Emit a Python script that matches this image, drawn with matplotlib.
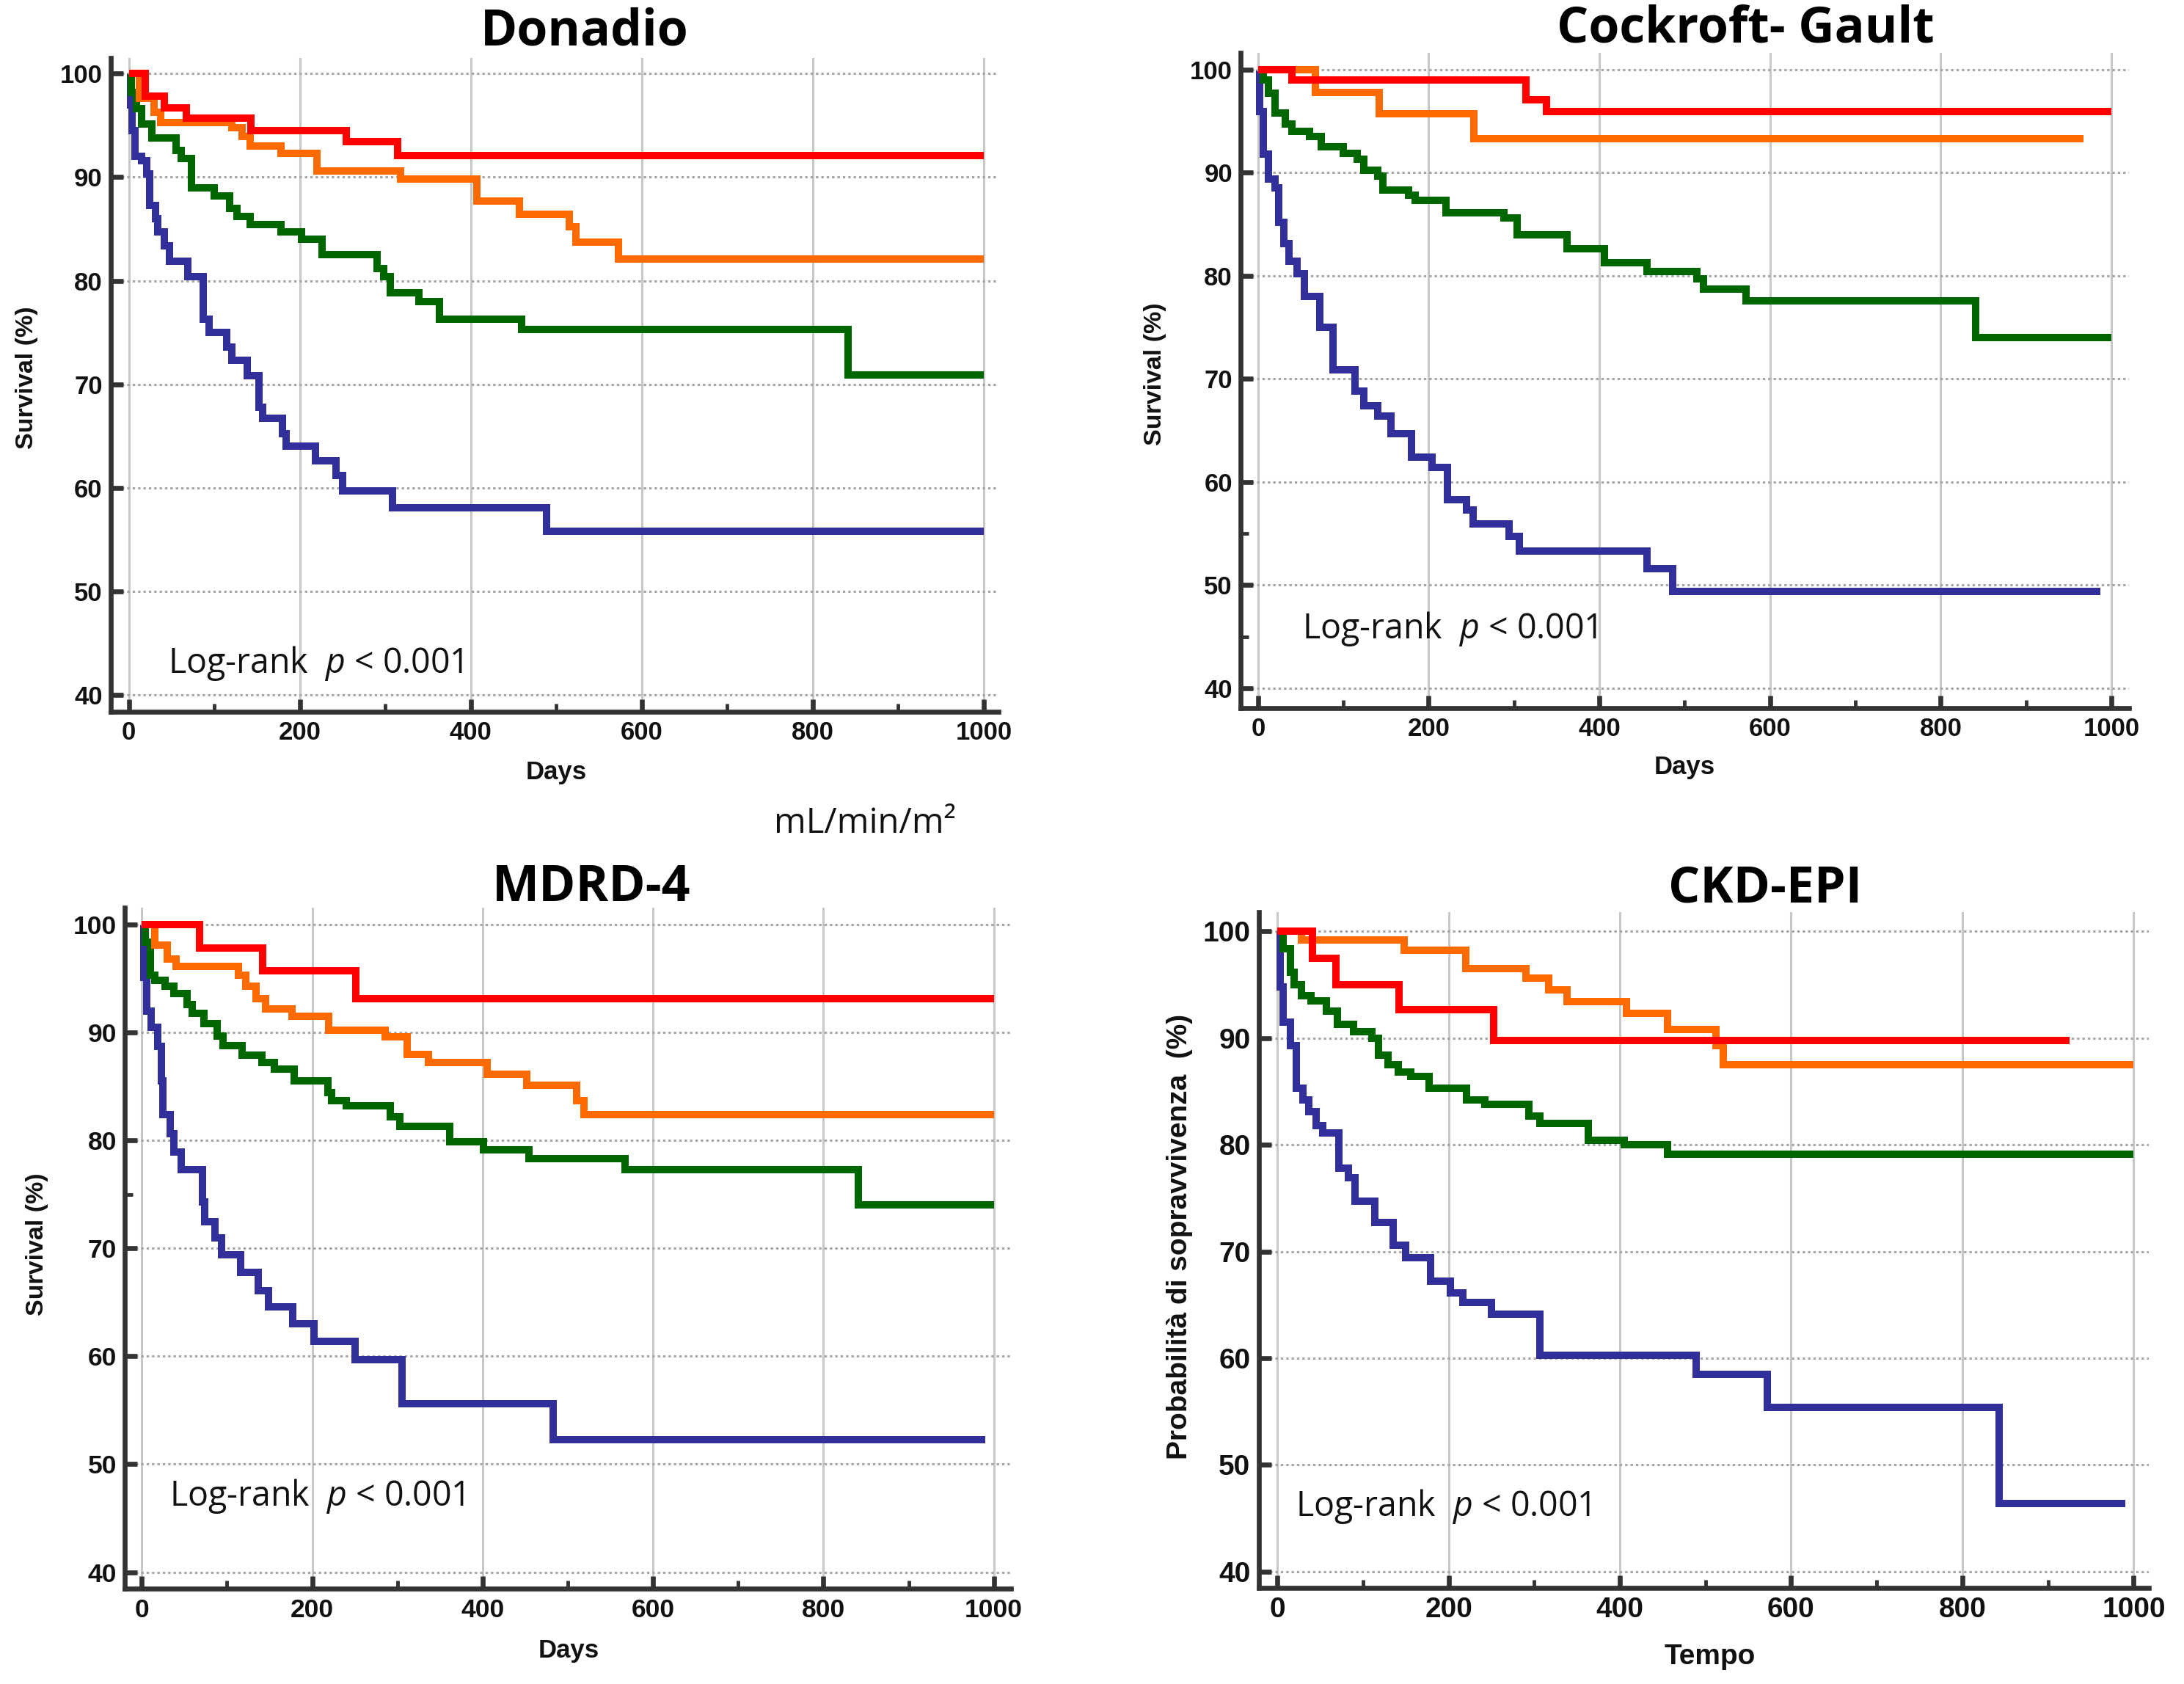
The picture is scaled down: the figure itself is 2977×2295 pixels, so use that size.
import matplotlib
matplotlib.use("Agg")
import matplotlib.pyplot as plt

W, H = 2977, 2295
plt.rcParams['mathtext.fontset'] = 'custom'
plt.rcParams['mathtext.rm'] = 'Open Sans'
plt.rcParams['mathtext.it'] = 'Open Sans:italic'

# ---------------- data (Kaplan-Meier step curves, days / survival %) ----------------
# Donadio
don_red_t = [0, 19, 41, 67, 143, 254, 314, 1000]
don_red_s = [100, 97.8, 96.7, 95.7, 94.5, 93.4, 92.1, 92.1]
don_org_t = [0, 12, 29, 37, 120, 132, 142, 178, 220, 318, 407, 457, 515, 523, 573, 1000]
don_org_s = [100, 97.6, 96.3, 95.3, 94.8, 93.9, 93.0, 92.3, 90.6, 89.8, 87.7, 86.4, 85.2, 83.7, 82.1, 82.1]
don_grn_t = [0, 3, 9, 15, 27, 55, 61, 73, 100, 118, 126, 142, 178, 202, 226, 290, 298, 306, 339, 363, 459, 841, 1000]
don_grn_s = [100, 98.2, 96.6, 95.1, 93.8, 92.6, 91.8, 89.0, 88.2, 87.0, 86.2, 85.4, 84.7, 84.0, 82.5, 81.2, 80.4, 78.8, 78.0, 76.3, 75.3, 70.9, 70.9]
don_blu_t = [0, 2, 4, 7, 15, 21, 24, 31, 34, 41, 47, 69, 87, 94, 114, 120, 138, 152, 156, 180, 184, 218, 242, 250, 308, 489, 1000]
don_blu_s = [100, 97.0, 94.5, 92.0, 91.6, 90.3, 87.3, 86.0, 84.7, 83.4, 81.9, 80.4, 76.3, 75.0, 73.6, 72.3, 70.8, 67.8, 66.7, 65.2, 64.0, 62.6, 61.2, 59.7, 58.1, 55.8, 55.8]

# Cockroft-Gault
cg_red_t = [0, 40, 314, 338, 1000]
cg_red_s = [100, 99.0, 97.1, 95.9, 95.9]
cg_org_t = [0, 67, 142, 253, 967]
cg_org_s = [100, 97.8, 95.75, 93.3, 93.3]
cg_grn_t = [0, 6, 12, 20, 32, 40, 60, 74, 100, 116, 124, 140, 146, 176, 184, 220, 288, 304, 362, 406, 456, 514, 522, 572, 841, 1000]
cg_grn_s = [100, 99.0, 97.7, 95.8, 94.7, 94.0, 93.5, 92.5, 91.9, 91.3, 90.2, 89.7, 88.3, 87.8, 87.3, 86.1, 85.6, 84.0, 82.6, 81.25, 80.4, 79.7, 78.7, 77.6, 74.0, 74.0]
cg_blu_t = [0, 2, 6, 12, 20, 24, 30, 36, 46, 54, 72, 88, 114, 124, 140, 156, 180, 204, 222, 244, 252, 294, 306, 456, 486, 987]
cg_blu_s = [100, 95.9, 91.8, 89.4, 88.5, 85.2, 83.1, 81.4, 80.2, 78.0, 75.0, 70.9, 68.8, 67.4, 66.4, 64.7, 62.4, 61.4, 58.3, 57.3, 55.9, 54.7, 53.3, 51.6, 49.4, 49.4]

# MDRD-4
md_red_t = [0, 68, 142, 251, 1000]
md_red_s = [100, 97.8, 95.7, 93.1, 93.1]
md_org_t = [0, 15, 30, 40, 113, 122, 134, 145, 176, 219, 286, 311, 336, 405, 452, 510, 519, 1000]
md_org_s = [100, 98.1, 96.8, 96.1, 95.3, 94.3, 93.1, 92.2, 91.5, 90.2, 89.6, 88.0, 87.2, 86.1, 85.1, 83.7, 82.4, 82.4]
md_grn_t = [0, 4, 10, 15, 27, 38, 53, 59, 73, 88, 95, 118, 141, 156, 179, 218, 223, 240, 292, 303, 361, 401, 454, 567, 841, 1000]
md_grn_s = [100, 98.4, 95.3, 94.8, 94.3, 93.6, 92.6, 91.8, 90.8, 89.7, 88.8, 87.9, 87.2, 86.6, 85.5, 84.4, 83.7, 83.2, 82.2, 81.3, 79.9, 79.1, 78.3, 77.3, 74.0, 74.0]
md_blu_t = [0, 2, 6, 11, 19, 23, 25, 33, 38, 46, 71, 74, 86, 94, 116, 137, 149, 177, 202, 250, 305, 483, 990]
md_blu_s = [100, 95.1, 92.0, 90.5, 88.7, 85.5, 82.4, 80.6, 78.9, 77.3, 74.3, 72.5, 71.0, 69.4, 67.8, 66.1, 64.6, 63.0, 61.4, 59.7, 55.6, 52.3, 52.3]

# CKD-EPI
ck_red_t = [0, 41, 68, 142, 253, 925]
ck_red_s = [100, 97.5, 95.0, 92.65, 89.8, 89.8]
ck_org_t = [0, 28, 148, 220, 290, 317, 338, 408, 456, 512, 521, 1000]
ck_org_s = [100, 99.2, 98.2, 96.5, 95.6, 94.5, 93.4, 92.3, 90.8, 89.3, 87.5, 87.5]
ck_grn_t = [0, 7, 15, 20, 28, 39, 57, 70, 89, 110, 118, 129, 141, 156, 177, 221, 242, 294, 307, 363, 405, 456, 1000]
ck_grn_s = [100, 98.4, 96.2, 95.0, 94.0, 93.5, 92.5, 91.3, 90.6, 90.0, 88.4, 87.5, 86.8, 86.4, 85.3, 84.2, 83.8, 82.7, 82.0, 80.4, 80.0, 79.1, 79.1]
ck_blu_t = [0, 3, 7, 15, 22, 30, 37, 45, 53, 72, 83, 91, 114, 135, 150, 179, 202, 217, 250, 307, 489, 572, 843, 990]
ck_blu_s = [100, 94.8, 91.5, 89.3, 85.3, 84.2, 83.1, 81.8, 81.1, 77.8, 76.9, 74.7, 72.7, 70.6, 69.4, 67.2, 66.1, 65.2, 64.1, 60.3, 58.5, 55.4, 46.4, 46.4]

titles = ["Donadio", "Cockroft- Gault", "MDRD-4", "CKD-EPI"]
xlabels = ["Days", "Days", "Days", "Tempo"]
ylabels = ["Survival (%)", "Survival (%)", "Survival (%)", "Probabilità di sopravvivenza  (%)"]
pvalue_text = "Log-rank  $p$ < 0.001"
unit_text = "mL/min/m²"
x_ticks = [0, 200, 400, 600, 800, 1000]
y_ticks = [40, 50, 60, 70, 80, 90, 100]

series = [
    [(don_blu_t, don_blu_s), (don_grn_t, don_grn_s), (don_org_t, don_org_s), (don_red_t, don_red_s)],
    [(cg_blu_t, cg_blu_s), (cg_grn_t, cg_grn_s), (cg_org_t, cg_org_s), (cg_red_t, cg_red_s)],
    [(md_blu_t, md_blu_s), (md_grn_t, md_grn_s), (md_org_t, md_org_s), (md_red_t, md_red_s)],
    [(ck_blu_t, ck_blu_s), (ck_grn_t, ck_grn_s), (ck_org_t, ck_org_s), (ck_red_t, ck_red_s)],
]
colors = ['#31309A', '#006600', '#FF6A00', '#FF0000']

# ---------------- layout (pixels) ----------------
panels = [
    dict(box=(150.7, 1361, 79.3, 970), xlim=(-21.5, 1017.3), ylim=(38.37, 101.49),
         title=(797, 44), xl=(758, 1052), yl=(37, 515), pv=(229, 904), tick=25, lab=25, ylab=24.5, minor_y=[]),
    dict(box=(1691, 2901.7, 72.3, 964.6), xlim=(-20.5, 1020.3), ylim=(38.1, 101.6),
         title=(2379, 40), xl=(2296, 1045), yl=(1575, 510), pv=(1775, 857), tick=25, lab=25, ylab=24.5, minor_y=[45, 55]),
    dict(box=(170.1, 1377.8, 1237.2, 2165.4), xlim=(-20, 1019.9), ylim=(38.45, 101.55),
         title=(806, 1210), xl=(775, 2249), yl=(51, 1696), pv=(231, 2039), tick=25.5, lab=25, ylab=24.5, minor_y=[75]),
    dict(box=(1715.7, 2929, 1242.5, 2163.9), xlim=(-21.8, 1017.7), ylim=(38.48, 101.84),
         title=(2406, 1212), xl=(2331, 2258), yl=(1608, 1685), pv=(1766, 2053), tick=28, lab=28, ylab=28, minor_y=[]),
]

fig = plt.figure(figsize=(W / 100, H / 100), dpi=100)
fig.patch.set_facecolor('white')

def fx(px):
    return px / W

def fy(py):
    return 1 - py / H

spine_col = '#333333'
for i, p in enumerate(panels):
    l, r, t, b = p['box']
    ax = fig.add_axes([fx(l), fy(b), (r - l) / W, (b - t) / H])
    for (tt, ss), c in zip(series[i], colors):
        ax.plot(tt, ss, drawstyle='steps-post', color=c, lw=7.2,
                solid_joinstyle='miter', solid_capstyle='butt')
    ax.set_xlim(*p['xlim'])
    ax.set_ylim(*p['ylim'])
    ax.set_xticks(x_ticks)
    ax.set_xticks([100, 300, 500, 700, 900], minor=True)
    ax.set_yticks(y_ticks)
    if p['minor_y']:
        ax.set_yticks(p['minor_y'], minor=True)
    ax.set_xticklabels([str(v) for v in x_ticks])
    ax.set_yticklabels([str(v) for v in y_ticks])
    for s in ['top', 'right']:
        ax.spines[s].set_visible(False)
    for s in ['left', 'bottom']:
        ax.spines[s].set_linewidth(4.8)
        ax.spines[s].set_color(spine_col)
        ax.spines[s].set_capstyle('projecting')
    ax.tick_params(axis='both', which='major', direction='in', length=12, width=4.8,
                   color=spine_col, labelsize=p['tick'], labelcolor='#111111')
    ax.tick_params(axis='x', which='major', pad=9)
    ax.tick_params(axis='y', which='major', pad=8)
    ax.tick_params(axis='both', which='minor', direction='in', length=8, width=3.5, color=spine_col)
    for lab in ax.get_xticklabels() + ax.get_yticklabels():
        lab.set_fontfamily('Liberation Sans')
        lab.set_fontweight('bold')
    ax.xaxis.grid(True, which='major', color='#c8c8c8', lw=2.2, ls='-')
    ax.yaxis.grid(True, which='major', color='#a6a6a6', lw=2.2, ls=(0, (1.1, 1.3)))
    ax.set_axisbelow(True)

    fig.text(fx(p['title'][0]), fy(p['title'][1]), titles[i], ha='center', va='center',
             fontsize=49, fontweight='bold', family='Open Sans')
    fig.text(fx(p['xl'][0]), fy(p['xl'][1]), xlabels[i], ha='center', va='center',
             fontsize=p['lab'], fontweight='bold', family='Liberation Sans', color='#111111')
    fig.text(fx(p['yl'][0]), fy(p['yl'][1]), ylabels[i], ha='center', va='center', rotation=90,
             fontsize=p['ylab'], fontweight='bold', family='Liberation Sans', color='#111111')
    fig.text(fx(p['pv'][0]), fy(p['pv'][1]), pvalue_text, ha='left', va='center',
             fontsize=33.5, family='Open Sans', color='#111111')

fig.text(fx(1055), fy(1122), unit_text, ha='left', va='center', fontsize=34,
         family='Open Sans', color='#111111')

fig.savefig('out.png', dpi=100, facecolor='white')
